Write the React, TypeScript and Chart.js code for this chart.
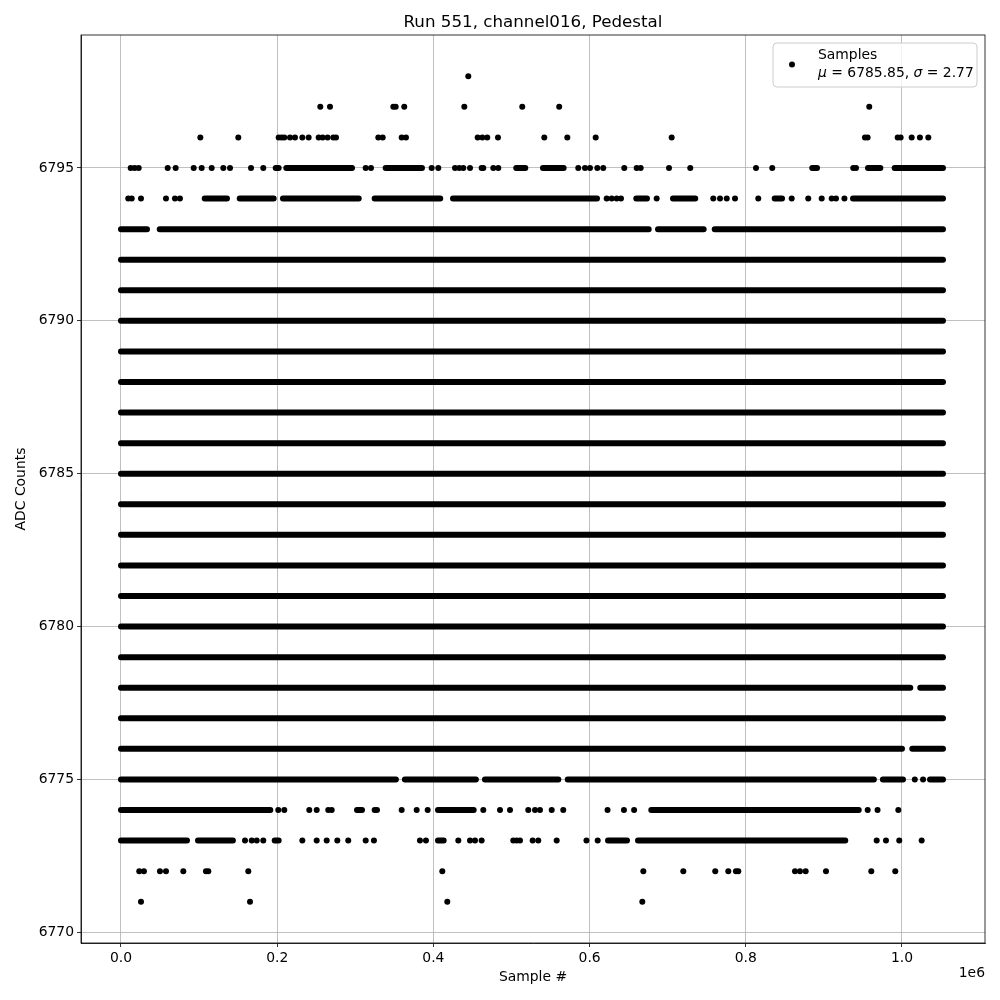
import React, { useEffect, useRef } from "react";
import { Chart, registerables } from "chart.js";

Chart.register(...registerables);

// ---- Data (x = sample #, y = ADC counts) ----
const TITLE = "Run 551, channel016, Pedestal";
const X_LABEL = "Sample #";
const Y_LABEL = "ADC Counts";
const LEGEND_LABEL = "Samples";
const MU = "6785.85";
const SIGMA = "2.77";

const xTickValues = [0, 200000, 400000, 600000, 800000, 1000000];
const yTickValues = [6770, 6775, 6780, 6785, 6790, 6795];

const FIRST_SAMPLE = 0;
const LAST_SAMPLE = 1052500;

// ADC levels that are filled continuously over the whole run
const fullLevels = [6777, 6779, 6780, 6781, 6782, 6783, 6784, 6785, 6786, 6787, 6788, 6789, 6790, 6791, 6792];

// densely-filled stretches for partially filled levels: [first sample, last sample]
const seg6795 = [[198100, 201900], [211700, 295800], [338900, 385400], [506100, 517700], [540300, 566800], [885100, 891200], [956500, 972300], [990600, 1052500]];
const seg6794 = [[107200, 135700], [152000, 195500], [207400, 304400], [324800, 408800], [425100, 609500], [659800, 673500], [706800, 735300], [837000, 846400], [937300, 1052500]];
const seg6793 = [[0, 33300], [49600, 675700], [687600, 746100], [760200, 1052500]];
const seg6778 = [[0, 1010600], [1023400, 1052500]];
const seg6776 = [[0, 1000000], [1013200, 1052500]];
const seg6775 = [[0, 352000], [363500, 454400], [466000, 560000], [572000, 964000], [975600, 1001300], [1035900, 1052500]];
const seg6774 = [[0, 191200], [302200, 308600], [405900, 451600], [679000, 944600]];
const seg6773 = [[0, 84500], [98600, 143300], [196800, 201900], [405900, 413200], [623600, 647900], [662000, 927400]];

// isolated samples per level
const pts6798 = [444700];
const pts6797 = [255200, 267600, 348700, 351700, 362700, 439600, 513800, 561100, 958100];
const pts6796 = [101600, 150200, 201900, 205700, 209100, 216400, 222800, 232200, 240300, 253100, 258200, 264600, 271900, 275300, 329500, 335100, 359400, 364900, 456700, 462700, 469000, 482700, 542000, 571500, 607800, 705100, 952600, 956000, 994500, 998300, 1012400, 1023000, 1033700];
const pts6795 = [12400, 17500, 22700, 59800, 70000, 93100, 103300, 116100, 131000, 139600, 166500, 182200, 313300, 320100, 397800, 406300, 427700, 433200, 438300, 446900, 461800, 463900, 476700, 483100, 585500, 594100, 600500, 609900, 617500, 644400, 660300, 665400, 701700, 728900, 813100, 833900, 937600, 941100];
const pts6794 = [9300, 13700, 25600, 57600, 69100, 75500, 621900, 628300, 634700, 640200, 685900, 758400, 767000, 775600, 786200, 816000, 858800, 880000, 897200, 910000, 915500, 926300];
const pts6775 = [1016400, 1027000];
const pts6774 = [201400, 209100, 241100, 250600, 265400, 269800, 324800, 327800, 359400, 378600, 392700, 463900, 485300, 498100, 521500, 530100, 536500, 551500, 566300, 623000, 644000, 657000, 956100, 968700, 995300];
const pts6773 = [158800, 167400, 173800, 182200, 232200, 250600, 263400, 277000, 291000, 313300, 323900, 382800, 390500, 431900, 446900, 453300, 461800, 502300, 506600, 510900, 527100, 534300, 557900, 596000, 610400, 967600, 979500, 996500, 1025200];
const pts6772 = [23400, 29400, 49900, 57600, 79800, 108800, 111800, 163000, 411400, 668800, 720000, 760900, 777600, 787400, 790400, 863000, 869400, 876700, 902700, 960700, 991400];
const pts6771 = [25600, 165200, 417800, 667500];

const X_MIN = -51200;
const X_MAX = 1106300;
const Y_MIN = 6769.65;
const Y_MAX = 6799.35;

const FONT = "'DejaVu Sans', sans-serif";

export default function App() {
  const ref = useRef<HTMLCanvasElement | null>(null);

  useEffect(() => {
    if (!ref.current) return;

    const segRows: [number, number[][]][] = [
      [6795, seg6795], [6794, seg6794], [6793, seg6793], [6778, seg6778],
      [6776, seg6776], [6775, seg6775], [6774, seg6774], [6773, seg6773],
    ];
    fullLevels.forEach((lv) => segRows.push([lv, [[FIRST_SAMPLE, LAST_SAMPLE]]]));

    const segData: { x: number; y: number | null }[] = [];
    segRows.forEach(([lv, segs]) => {
      segs.forEach(([a, b]) => {
        segData.push({ x: a, y: lv }, { x: b, y: lv }, { x: b, y: null });
      });
    });

    const ptRows: [number, number[]][] = [
      [6798, pts6798], [6797, pts6797], [6796, pts6796], [6795, pts6795], [6794, pts6794],
      [6775, pts6775], [6774, pts6774], [6773, pts6773], [6772, pts6772], [6771, pts6771],
    ];
    const ptData: { x: number; y: number }[] = [];
    ptRows.forEach(([lv, xs]) => xs.forEach((x) => ptData.push({ x, y: lv })));

    const textPlugin = {
      id: "mplText",
      afterDraw(chart: any) {
        const ctx = chart.ctx as CanvasRenderingContext2D;
        const ca = chart.chartArea;
        ctx.save();
        // frame
        ctx.strokeStyle = "#000";
        ctx.lineWidth = 0.8;
        ctx.strokeRect(ca.left, ca.top, ca.right - ca.left, ca.bottom - ca.top);

        ctx.fillStyle = "#000";
        // title
        ctx.font = `16.7px ${FONT}`;
        ctx.textAlign = "center";
        ctx.textBaseline = "alphabetic";
        ctx.fillText(TITLE, (ca.left + ca.right) / 2, 27);

        // axis labels
        ctx.font = `13.9px ${FONT}`;
        ctx.textBaseline = "middle";
        ctx.fillText(X_LABEL, (ca.left + ca.right) / 2, 977);
        ctx.save();
        ctx.translate(21, (ca.top + ca.bottom) / 2);
        ctx.rotate(-Math.PI / 2);
        ctx.fillText(Y_LABEL, 0, 0);
        ctx.restore();

        // offset text
        ctx.textAlign = "right";
        ctx.fillText("1e6", ca.right, 973);

        // legend
        const lx = 773, ly = 43, lw = 204, lh = 44, r = 4;
        ctx.beginPath();
        ctx.moveTo(lx + r, ly);
        ctx.lineTo(lx + lw - r, ly);
        ctx.quadraticCurveTo(lx + lw, ly, lx + lw, ly + r);
        ctx.lineTo(lx + lw, ly + lh - r);
        ctx.quadraticCurveTo(lx + lw, ly + lh, lx + lw - r, ly + lh);
        ctx.lineTo(lx + r, ly + lh);
        ctx.quadraticCurveTo(lx, ly + lh, lx, ly + lh - r);
        ctx.lineTo(lx, ly + r);
        ctx.quadraticCurveTo(lx, ly, lx + r, ly);
        ctx.closePath();
        ctx.fillStyle = "rgba(255,255,255,0.8)";
        ctx.fill();
        ctx.strokeStyle = "#cccccc";
        ctx.lineWidth = 1;
        ctx.stroke();

        ctx.fillStyle = "#000";
        ctx.beginPath();
        ctx.arc(792, 64.5, 3, 0, Math.PI * 2);
        ctx.fill();

        ctx.textAlign = "left";
        ctx.textBaseline = "middle";
        ctx.font = `13.9px ${FONT}`;
        ctx.fillText(LEGEND_LABEL, 818, 55);
        let x = 818;
        const y2 = 73;
        const parts: [string, boolean][] = [
          ["μ", true], [` = ${MU}, `, false], ["σ", true], [` = ${SIGMA}`, false],
        ];
        parts.forEach(([t, it]) => {
          ctx.font = `${it ? "oblique " : ""}13.9px ${FONT}`;
          ctx.fillText(t, x, y2);
          x += ctx.measureText(t).width;
        });
        ctx.restore();
      },
    };

    const chart = new Chart(ref.current, {
      type: "scatter",
      data: {
        datasets: [
          {
            label: "segments",
            data: segData as any,
            showLine: true,
            spanGaps: false,
            pointRadius: 0,
            borderColor: "#000",
            borderWidth: 6,
            borderCapStyle: "round",
            backgroundColor: "#000",
          } as any,
          {
            label: LEGEND_LABEL,
            data: ptData,
            pointRadius: 3,
            pointBorderWidth: 0,
            backgroundColor: "#000",
            borderColor: "#000",
          },
        ],
      },
      options: {
        responsive: false,
        animation: false,
        devicePixelRatio: 1,
        events: [],
        layout: { padding: { top: 35, right: 15, left: 0, bottom: 0 } },
        plugins: {
          legend: { display: false },
          title: { display: false },
          tooltip: { enabled: false },
        },
        scales: {
          x: {
            type: "linear",
            min: X_MIN,
            max: X_MAX,
            afterBuildTicks: (s: any) => {
              s.ticks = xTickValues.map((v) => ({ value: v }));
            },
            afterFit: (s: any) => {
              s.height = 57;
            },
            ticks: {
              autoSkip: false,
              maxRotation: 0,
              padding: 3,
              color: "#000",
              font: { family: FONT, size: 13.9 },
              callback: (v: any) => (Number(v) / 1e6).toFixed(1),
            },
            grid: {
              color: "#b0b0b0",
              lineWidth: 0.8,
              tickColor: "#000",
              tickLength: 4,
              tickWidth: 0.8,
            },
            border: { display: true, color: "#000", width: 0.8 },
          },
          y: {
            type: "linear",
            min: Y_MIN,
            max: Y_MAX,
            afterBuildTicks: (s: any) => {
              s.ticks = yTickValues.map((v) => ({ value: v }));
            },
            afterFit: (s: any) => {
              s.width = 81;
            },
            ticks: {
              autoSkip: false,
              padding: 3,
              color: "#000",
              font: { family: FONT, size: 13.9 },
              callback: (v: any) => String(v),
            },
            grid: {
              color: "#b0b0b0",
              lineWidth: 0.8,
              tickColor: "#000",
              tickLength: 4,
              tickWidth: 0.8,
            },
            border: { display: true, color: "#000", width: 0.8 },
          },
        },
      },
      plugins: [textPlugin],
    });

    return () => chart.destroy();
  }, []);

  return (
    <div style={{ position: "absolute", left: 0, top: 0, width: 1000, height: 1000, background: "#fff" }}>
      <canvas ref={ref} width={1000} height={1000} style={{ width: 1000, height: 1000 }} />
    </div>
  );
}
